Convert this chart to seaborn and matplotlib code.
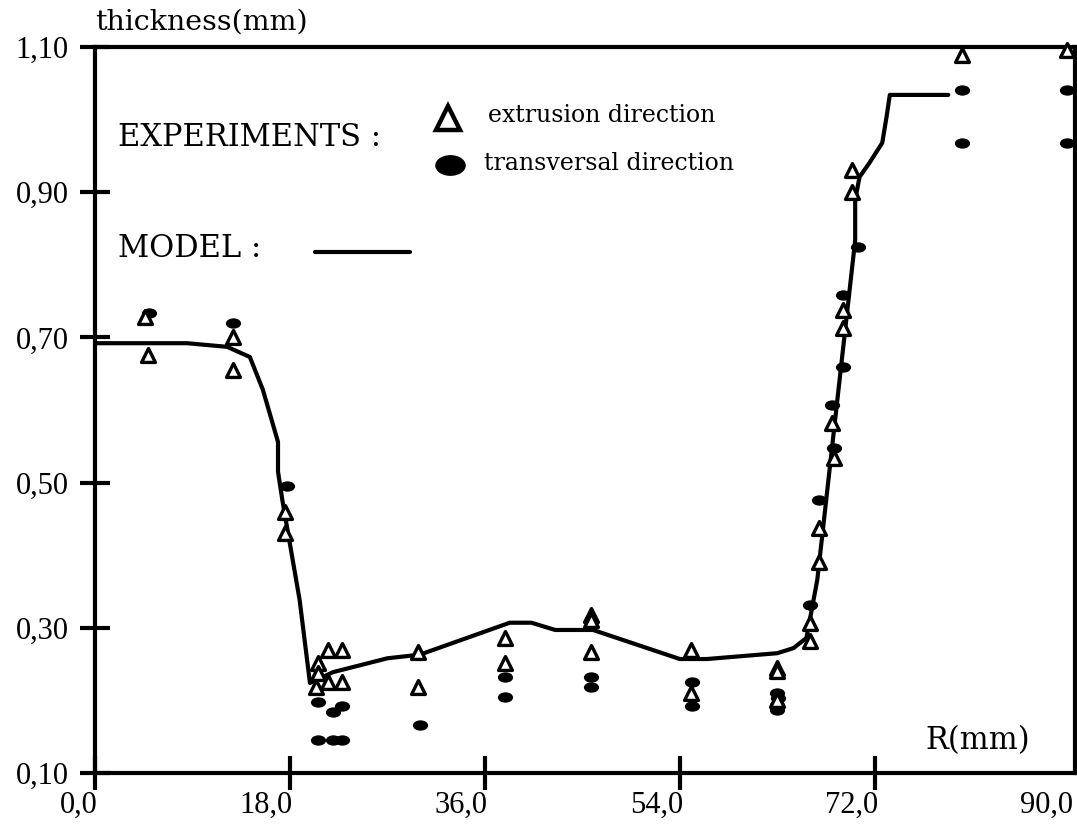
import numpy as np
import pandas as pd
import seaborn as sns
import matplotlib.pyplot as plt
from matplotlib.path import Path
from matplotlib.transforms import ScaledTranslation

# model curve (R in mm, thickness in mm)
model_r = [0, 8.5, 12.2, 14.3, 15.5, 16.9, 16.9, 17.3, 18.9, 19.85, 22, 27, 30,
           38.3, 40.3, 42.5, 46, 54, 56.5, 63, 64.5, 65.7, 66.7, 70.2, 70.2,
           70.6, 71.5, 72.7, 73.1, 73.4, 78.8]
model_t = [0.692, 0.692, 0.687, 0.673, 0.628, 0.556, 0.515, 0.476, 0.338, 0.224,
           0.239, 0.258, 0.263, 0.307, 0.307, 0.297, 0.297, 0.257, 0.257, 0.265,
           0.272, 0.286, 0.366, 0.834, 0.889, 0.921, 0.94, 0.968, 1.004, 1.034, 1.034]

# experiments, extrusion direction
ext_r = [4.6, 4.9, 12.7, 12.7, 17.5, 17.5,
         20.6, 20.6, 20.4, 21.5, 22.8, 21.5, 22.8,
         29.8, 29.8, 37.9, 37.9, 45.8, 45.8, 45.8,
         55.0, 55.0, 63.0, 63.0, 63.0,
         66.0, 66.0, 66.9, 66.9, 68.2, 68.1, 69.1, 69.1, 69.9, 69.9,
         80.1, 89.8]
ext_t = [0.728, 0.676, 0.70, 0.655, 0.46, 0.43,
         0.252, 0.238, 0.218, 0.269, 0.269, 0.225, 0.225,
         0.267, 0.218, 0.286, 0.252, 0.318, 0.311, 0.267,
         0.269, 0.210, 0.245, 0.240, 0.200,
         0.282, 0.307, 0.391, 0.437, 0.534, 0.582, 0.713, 0.738, 0.90, 0.931,
         1.089, 1.096]

# experiments, transversal direction
tr_r = [5.0, 12.7, 17.7,
        20.6, 22.0, 22.8, 20.6, 22.0, 22.8,
        30.0, 37.9, 37.9, 45.8, 45.8, 55.1, 55.1,
        63.0, 63.1, 63.0, 63.0,
        66.0, 66.9, 68.2, 68.1, 69.1, 69.1, 70.5,
        80.1, 80.1, 89.8, 89.8]
tr_t = [0.733, 0.72, 0.495,
        0.198, 0.184, 0.192, 0.145, 0.145, 0.145,
        0.166, 0.232, 0.205, 0.232, 0.218, 0.225, 0.192,
        0.210, 0.203, 0.194, 0.187,
        0.331, 0.476, 0.548, 0.607, 0.659, 0.758, 0.825,
        1.041, 0.968, 1.041, 0.968]

xticks = [0, 18, 36, 54, 72, 90]
xlabels = ['0,0', '18,0', '36,0', '54,0', '72,0', '90,0']
yticks = [0.10, 0.30, 0.50, 0.70, 0.90, 1.10]
ylabels = ['0,10', '0,30', '0,50', '0,70', '0,90', '1,10']

model = pd.DataFrame({'r': model_r, 't': model_t})
ext = pd.DataFrame({'r': ext_r, 't': ext_t})
tr = pd.DataFrame({'r': tr_r, 't': tr_t})

sns.set_theme(style='white')
plt.rcParams['font.family'] = ['DejaVu Serif']
plt.rcParams['text.color'] = 'black'
plt.rcParams['xtick.color'] = 'black'
plt.rcParams['ytick.color'] = 'black'

circ = Path.unit_circle()
ellipse = Path(circ.vertices * np.array([1.0, 0.68]), circ.codes)

fig = plt.figure(figsize=(10.77, 8.25), dpi=100)
ax = fig.add_axes([95 / 1077, 52 / 825, 980 / 1077, 726 / 825])

sns.lineplot(data=model, x='r', y='t', sort=False, estimator=None,
             color='black', linewidth=3, ax=ax)
sns.scatterplot(data=tr, x='r', y='t', marker=ellipse, s=120, color='black',
                edgecolor='black', linewidth=0, ax=ax, clip_on=False, zorder=3)
sns.scatterplot(data=ext, x='r', y='t', marker='^', s=100, facecolor='white',
                edgecolor='black', linewidth=2.4, ax=ax, clip_on=False, zorder=4)

ax.set_xlim(0, 90.5)
ax.set_ylim(0.10, 1.10)
ax.set_xticks(xticks)
ax.set_xticklabels(xlabels, family='Liberation Serif', fontsize=22)
ax.set_yticks(yticks)
ax.set_yticklabels(ylabels, family='Liberation Serif', fontsize=22)
ax.set_xlabel('')
ax.set_ylabel('')
for s in ax.spines.values():
    s.set_visible(True)
    s.set_color('black')
    s.set_linewidth(3)
ax.tick_params(axis='x', bottom=True, direction='inout', length=25, width=3,
               color='black', labelcolor='black', pad=0)
ax.tick_params(axis='y', left=True, direction='inout', length=22, width=3,
               color='black', labelcolor='black', pad=8)
# no tick mark at 90 (only the frame there)
ax.xaxis.get_major_ticks()[-1].tick1line.set_visible(False)
shift = ScaledTranslation(3 / 100, 0, fig.dpi_scale_trans)
for lab in ax.get_xticklabels():
    lab.set_ha('right')
    lab.set_transform(lab.get_transform() + shift)

fig.text(95 / 1077, 1 - 22 / 825, 'thickness(mm)', fontsize=20.5, va='center', ha='left')
ax.text(0.0235, 0.876, 'EXPERIMENTS :', transform=ax.transAxes, fontsize=22, va='center')
ax.text(0.0235, 0.723, 'MODEL :', transform=ax.transAxes, fontsize=22, va='center')
ax.plot([0.2245, 0.321], [0.7176, 0.7176], transform=ax.transAxes, color='black', lw=3)
ax.plot([0.360], [0.902], transform=ax.transAxes, marker='^', markersize=17,
        markerfacecolor='white', markeredgecolor='black', markeredgewidth=3.2)
ax.text(0.401, 0.906, 'extrusion direction', transform=ax.transAxes, fontsize=17, va='center')
ax.plot([0.362], [0.837], transform=ax.transAxes, marker=ellipse, markersize=22,
        color='black', markeredgewidth=0)
ax.text(0.397, 0.840, 'transversal direction', transform=ax.transAxes, fontsize=17, va='center')
ax.text(0.847, 0.045, 'R(mm)', transform=ax.transAxes, fontsize=22, va='center')

fig.savefig('out.png', dpi=100)
